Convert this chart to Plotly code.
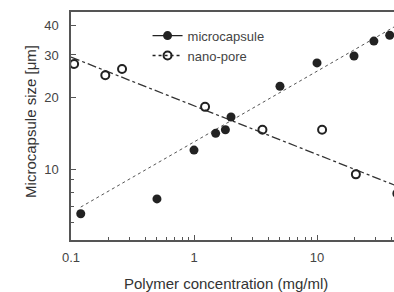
import plotly.graph_objects as go

# Data
micro_x = [0.12, 0.5, 1.0, 1.5, 1.8, 2.0, 5.0, 10.0, 20.0, 29.0, 39.0]
micro_y = [6.5, 7.5, 12.0, 14.1, 14.6, 16.5, 22.2, 27.8, 29.7, 34.3, 36.3]
nano_x = [0.106, 0.19, 0.26, 1.23, 3.6, 11.0, 20.7, 45.0]
nano_y = [27.5, 24.7, 26.2, 18.2, 14.6, 14.6, 9.5, 7.9]
fit_micro_x = [0.12, 43.0]
fit_micro_y = [6.93, 39.5]
fit_nano_x = [0.1, 43.0]
fit_nano_y = [29.4, 8.55]

x_major = [0.1, 1, 10]
x_major_text = ["0.1", "1", "10"]
x_minor = [0.2, 0.3, 0.4, 0.5, 0.6, 0.7, 0.8, 0.9, 2, 3, 4, 5, 6, 7, 8, 9, 20, 30, 40]
y_major = [10, 20, 30, 40]
y_major_text = ["10", "20", "30", "40"]
y_minor = [6, 7, 8, 9]

ink = "#222222"
font = "Liberation Sans, Arial, sans-serif"

fig = go.Figure()
fig.add_trace(go.Scatter(x=fit_micro_x, y=fit_micro_y, mode="lines",
                         line=dict(color="#555555", width=1, dash="dot"),
                         showlegend=False, hoverinfo="skip"))
fig.add_trace(go.Scatter(x=fit_nano_x, y=fit_nano_y, mode="lines",
                         line=dict(color="#333333", width=1.3, dash="dashdot"),
                         showlegend=False, hoverinfo="skip"))
fig.add_trace(go.Scatter(x=micro_x, y=micro_y, mode="markers",
                         marker=dict(symbol="circle", size=9, color=ink),
                         showlegend=False))
fig.add_trace(go.Scatter(x=nano_x, y=nano_y, mode="markers",
                         marker=dict(symbol="circle-open", size=8, color=ink, line=dict(width=2)),
                         showlegend=False))
# legend entries
fig.add_trace(go.Scatter(x=[None], y=[None], mode="lines+markers", name="microcapsule",
                         line=dict(color=ink, width=1.3),
                         marker=dict(symbol="circle", size=9, color=ink)))
fig.add_trace(go.Scatter(x=[None], y=[None], mode="lines+markers", name="nano-pore",
                         line=dict(color=ink, width=1.3, dash="dot"),
                         marker=dict(symbol="circle-open", size=8, color=ink, line=dict(width=2))))

fig.update_layout(
    width=394, height=292,
    margin=dict(l=71, r=0, t=12, b=52),
    paper_bgcolor="white", plot_bgcolor="white",
    font=dict(family=font, size=13, color="#333333"),
    legend=dict(x=0.237, y=0.962, xanchor="left", yanchor="top",
                bgcolor="rgba(0,0,0,0)", font=dict(size=13, color="#444444"),
                tracegroupgap=0, itemwidth=30),
    xaxis=dict(type="log", range=[-1, 1.626], automargin=False,
               tickmode="array", tickvals=x_major, ticktext=x_major_text,
               ticks="inside", ticklen=5, tickwidth=1, tickcolor="#555555",
               showline=True, linecolor="#555555", linewidth=1.5, mirror=True,
               showgrid=False, zeroline=False, ticklabelstandoff=5,
               minor=dict(tickmode="array", tickvals=x_minor, ticks="inside",
                          ticklen=3, tickcolor="#555555", showgrid=False),
               tickfont=dict(size=13, color="#444444")),
    yaxis=dict(type="log", range=[0.703, 1.657], automargin=False,
               tickmode="array", tickvals=y_major, ticktext=y_major_text,
               ticks="inside", ticklen=5, tickwidth=1, tickcolor="#555555",
               showline=True, linecolor="#555555", linewidth=1.5,
               showgrid=False, zeroline=False, ticklabelstandoff=8,
               minor=dict(tickmode="array", tickvals=y_minor, ticks="inside",
                          ticklen=3, tickcolor="#555555", showgrid=False),
               tickfont=dict(size=13, color="#444444")),
    annotations=[
        dict(text="Polymer concentration (mg/ml)", xref="paper", yref="paper",
             x=0.48, y=0, yshift=-43, xanchor="center", yanchor="middle",
             showarrow=False, font=dict(size=15, color="#333333")),
        dict(text="Microcapsule size [μm]", xref="paper", yref="paper",
             x=0, y=0.518, xshift=-40, xanchor="center", yanchor="middle",
             textangle=-90, showarrow=False, font=dict(size=15, color="#333333")),
    ],
)

fig.write_html(
    "out.html",
    config={"displayModeBar": False},
    post_script="document.body.style.margin='0';document.body.style.overflow='hidden';",
)
